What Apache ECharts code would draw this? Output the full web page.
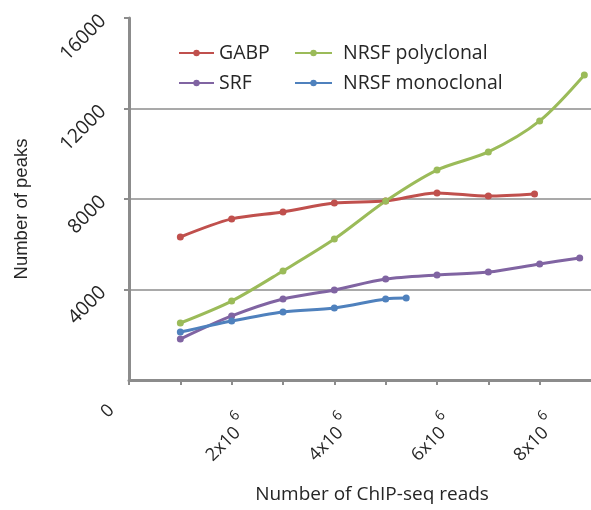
<!DOCTYPE html>
<html>
<head>
<meta charset="utf-8">
<script src="https://cdn.jsdelivr.net/npm/echarts@6/dist/echarts.min.js"></script>
<style>
html,body{margin:0;padding:0;background:#fff;}
#c{width:591px;height:510px;}
</style>
</head>
<body>
<div id="c"></div>
<script>
// ---- data ----
const seriesNames = ['GABP', 'SRF', 'NRSF polyclonal', 'NRSF monoclonal'];
const gabpX = [1e6, 2e6, 3e6, 4e6, 5e6, 6e6, 7e6, 7.9e6];
const gabpY = [6320, 7120, 7430, 7820, 7910, 8270, 8130, 8220];
const srfX = [1e6, 2e6, 3e6, 4e6, 5e6, 6e6, 7e6, 8e6, 8.78e6];
const srfY = [1810, 2830, 3580, 3980, 4460, 4640, 4770, 5130, 5390];
const polyX = [1e6, 2e6, 3e6, 4e6, 5e6, 6e6, 7e6, 8e6, 8.87e6];
const polyY = [2520, 3490, 4820, 6230, 7910, 9280, 10080, 11450, 13480];
const monoX = [1e6, 2e6, 3e6, 4e6, 5e6, 5.4e6];
const monoY = [2120, 2610, 3010, 3180, 3580, 3620];
const xTickLabels = {0: '0', 2000000: '2x10', 4000000: '4x10', 6000000: '6x10', 8000000: '8x10'};
const yTickLabels = {4000: '4000', 8000: '8000', 12000: '12000', 16000: '16000'};
const colors = ['#c0504d', '#8064a2', '#9bbb59', '#4f81bd'];

function pairs(xs, ys) { return xs.map((x, i) => [x, ys[i]]); }
const allData = [pairs(gabpX, gabpY), pairs(srfX, srfY), pairs(polyX, polyY), pairs(monoX, monoY)];

const font = 'Open Sans';
const textColor = '#262626';
const axisGray = '#8c8c8c';

const chart = echarts.init(document.getElementById('c'), null, {renderer: 'canvas'});
chart.setOption({
  animation: false,
  color: colors,
  grid: {left: 129, right: 0, top: 18, bottom: 130, containLabel: false},
  legend: [
    {
      orient: 'vertical', left: 173, top: 36, itemGap: 6,
      itemWidth: 35, itemHeight: 8,
      data: ['GABP', 'SRF'],
      textStyle: {fontFamily: font, fontSize: 19.5, color: textColor, lineHeight: 24}
    },
    {
      orient: 'vertical', left: 289, top: 36, itemGap: 6,
      itemWidth: 37, itemHeight: 8,
      data: ['NRSF polyclonal', 'NRSF monoclonal'],
      textStyle: {fontFamily: font, fontSize: 19.5, color: textColor, lineHeight: 24, padding: [0, 0, 0, 6]}
    }
  ],
  xAxis: {
    type: 'value', min: 0, max: 9e6, interval: 1e6,
    name: 'Number of ChIP-seq reads', nameLocation: 'middle', nameGap: 105,
    nameTextStyle: {fontFamily: font, fontSize: 19, color: textColor, padding: [0, 0, 0, 24]},
    axisLine: {show: true, onZero: false, lineStyle: {color: axisGray, width: 3}},
    axisTick: {show: true, length: 5, lineStyle: {color: axisGray, width: 2}},
    splitLine: {show: false},
    axisLabel: {
      rotate: 45, margin: 27, showMaxLabel: false,
      padding: [41, 0, 0, 0],
      fontFamily: font, fontSize: 17, color: textColor,
      formatter: function (v) {
        const t = xTickLabels[v];
        if (t === undefined) return '';
        if (v === 0) return '{z|' + t + '}';
        return '{a|' + t + '}{s|6}';
      },
      rich: {
        a: {fontFamily: font, fontSize: 18, color: textColor},
        s: {fontFamily: font, fontSize: 14, color: textColor, padding: [0, 0, 24, 4]},
        z: {fontFamily: font, fontSize: 18, color: textColor, padding: [0, 13, 65, 0]}
      }
    }
  },
  yAxis: {
    type: 'value', min: 0, max: 16000, interval: 4000,
    name: 'Number of peaks', nameLocation: 'middle', nameGap: 98,
    nameTextStyle: {fontFamily: 'Liberation Sans', fontSize: 18.5, color: textColor, padding: [0, 20, 0, 0]},
    axisLine: {show: true, lineStyle: {color: axisGray, width: 3}},
    axisTick: {show: true, length: 5, lineStyle: {color: axisGray, width: 2}},
    splitLine: {show: true, lineStyle: {color: ['rgba(0,0,0,0)', axisGray, axisGray, axisGray, 'rgba(0,0,0,0)'], width: 1.5}},
    axisLabel: {
      rotate: 45, margin: 26, showMinLabel: false,
      fontFamily: font, fontSize: 19.5, color: textColor,
      formatter: function (v) { return yTickLabels[v] || ''; }
    }
  },
  series: seriesNames.map((n, i) => ({
    name: n, type: 'line', smooth: 0.3,
    data: allData[i],
    symbol: 'circle', symbolSize: 7,
    lineStyle: {width: 3, color: colors[i]},
    itemStyle: {color: colors[i]}
  }))
});
</script>
</body>
</html>
